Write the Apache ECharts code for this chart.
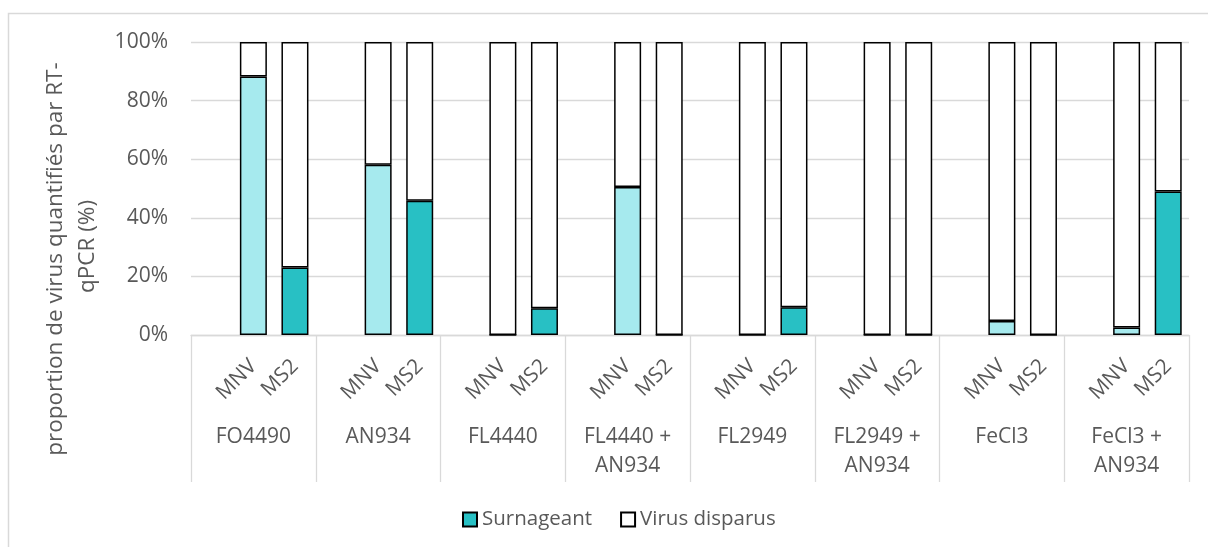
<!DOCTYPE html>
<html>
<head>
<meta charset="utf-8">
<script src="https://cdn.jsdelivr.net/npm/echarts@6/dist/echarts.min.js"></script>
<style>
html,body{margin:0;padding:0;background:#fff;}
#chart{width:1208px;height:547px;}
</style>
</head>
<body>
<div id="chart"></div>
<script>
// ---- data ----
const groups = ['FO4490', 'AN934', 'FL4440', 'FL4440 +\nAN934', 'FL2949', 'FL2949 +\nAN934', 'FeCl3', 'FeCl3 +\nAN934'];
const viruses = ['MNV', 'MS2'];
const mnvSurnageant = [88.2, 58.1, 0, 50.5, 0, 0, 4.8, 2.6];
const ms2Surnageant = [23.0, 45.8, 9.1, 0, 9.5, 0, 0, 49.0];
const mnvDisparus = [11.8, 41.9, 100, 49.5, 100, 100, 95.2, 97.4];
const ms2Disparus = [77.0, 54.2, 90.9, 100, 90.5, 100, 100, 51.0];
const yTicks = [0, 20, 40, 60, 80, 100];
const legendNames = ['Surnageant', 'Virus disparus'];
const yTitleLines = ['proportion de virus quantifiés par RT-', 'qPCR (%)'];

// ---- styles ----
const FONT = '"Open Sans", "Noto Sans", sans-serif';
const TXT = '#595959';
const GRIDC = '#d9d9d9';
const MNV_COLOR = '#a6eaee';
const MS2_COLOR = '#28c0c4';

// build 3 slots per group: blank, MNV, MS2
const cats = [];
const surnData = [];
const dispData = [];
groups.forEach((g, i) => {
  cats.push(i + '|');
  surnData.push('-');
  dispData.push('-');
  cats.push(i + '|' + viruses[0]);
  surnData.push({ value: mnvSurnageant[i], itemStyle: { color: MNV_COLOR } });
  dispData.push(mnvDisparus[i]);
  cats.push(i + '|' + viruses[1]);
  surnData.push({ value: ms2Surnageant[i], itemStyle: { color: MS2_COLOR } });
  dispData.push(ms2Disparus[i]);
});

const chart = echarts.init(document.getElementById('chart'), null, { renderer: 'canvas' });
const gridPos = { left: 191, right: 19, top: 42, bottom: 212, containLabel: false };

const option = {
  animation: false,
  backgroundColor: '#fff',
  textStyle: { fontFamily: FONT },
  grid: [Object.assign({}, gridPos), Object.assign({}, gridPos)],
  xAxis: [
    {
      type: 'category', gridIndex: 0, data: cats, position: 'bottom',
      axisLine: { show: true, lineStyle: { color: GRIDC, width: 1.3 } },
      axisTick: { show: false },
      axisLabel: {
        interval: 0, rotate: 45, margin: 28, fontSize: 21, color: TXT, fontFamily: FONT,
        formatter: v => v.split('|')[1]
      }
    },
    {
      type: 'category', gridIndex: 1, data: groups, position: 'bottom',
      axisLine: { show: false },
      axisTick: { show: true, interval: 0, length: 147, lineStyle: { color: GRIDC, width: 1.3 } },
      axisLabel: { interval: 0, margin: 88, fontSize: 21, lineHeight: 29, color: TXT, fontFamily: FONT, align: 'center' }
    }
  ],
  yAxis: [
    {
      type: 'value', gridIndex: 0, min: yTicks[0], max: yTicks[yTicks.length - 1], interval: yTicks[1] - yTicks[0],
      axisLine: { show: false }, axisTick: { show: false },
      splitLine: { show: true, lineStyle: { color: GRIDC, width: 1.3 } },
      axisLabel: { formatter: '{value}%', fontSize: 21, color: TXT, margin: 23, fontFamily: FONT }
    },
    { type: 'value', gridIndex: 1, min: 0, max: 100, show: false }
  ],
  legend: {
    left: 462, top: 509, padding: 0, itemWidth: 14, itemHeight: 14, itemGap: 28,
    icon: 'rect',
    textStyle: { fontSize: 20.5, color: TXT, fontFamily: FONT },
    data: legendNames
  },
  series: [
    {
      name: legendNames[0], type: 'bar', stack: 'total', xAxisIndex: 0, yAxisIndex: 0,
      barWidth: 27, data: surnData,
      itemStyle: { color: MS2_COLOR, borderColor: '#000', borderWidth: 1.5 }
    },
    {
      name: legendNames[1], type: 'bar', stack: 'total', xAxisIndex: 0, yAxisIndex: 0,
      barWidth: 27, data: dispData,
      itemStyle: { color: '#fff', borderColor: '#000', borderWidth: 1.5 }
    }
  ],
  graphic: [
    { type: 'rect', silent: true, shape: { x: 8.5, y: 13.5, width: 1300, height: 700 },
      style: { fill: null, stroke: GRIDC, lineWidth: 1.5 } },
    { type: 'text', x: 56, y: 259, rotation: Math.PI / 2,
      style: { text: yTitleLines[0], fill: TXT, fontSize: 22.5, fontFamily: FONT, align: 'center', verticalAlign: 'middle' } },
    { type: 'text', x: 88, y: 246.5, rotation: Math.PI / 2,
      style: { text: yTitleLines[1], fill: TXT, fontSize: 22.5, fontFamily: FONT, align: 'center', verticalAlign: 'middle' } }
  ]
};
chart.setOption(option);
</script>
</body>
</html>
